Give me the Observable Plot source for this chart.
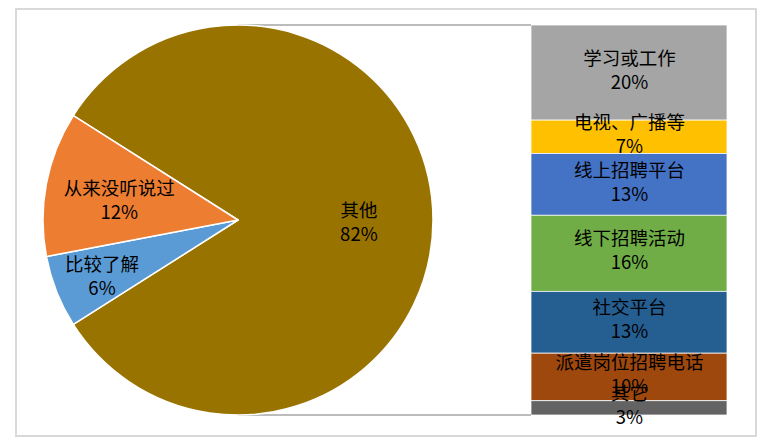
<!DOCTYPE html>
<html><head><meta charset="utf-8">
<script src="https://cdn.jsdelivr.net/npm/d3@7"></script>
<script src="https://cdn.jsdelivr.net/npm/@observablehq/plot@0.6"></script>
<style>
body{margin:0;background:#fff;}
#wrap{position:relative;width:765px;height:440px;}
#frame{position:absolute;left:15px;top:8px;width:738px;height:425px;border:2px solid #d9d9d9;pointer-events:none;}
#wrap svg{position:absolute;left:0;top:0;}
</style></head><body>
<div id="wrap"><div id="frame"></div></div>
<script>
const pieLabels = ["其他", "比较了解", "从来没听说过"];
const pieValues = [82, 6, 12];
const pieColors = ["#997300", "#5B9BD5", "#ED7D31"];
const barLabels = ["学习或工作", "电视、广播等", "线上招聘平台", "线下招聘活动", "社交平台", "派遣岗位招聘电话", "其它"];
const barValues = [20, 7, 13, 16, 13, 10, 3];
const barColors = ["#A5A5A5", "#FFC000", "#4472C4", "#70AD47", "#255E91", "#9E480E", "#636363"];

const barData = barLabels.map((label, i) => ({label, value: barValues[i], group: pieLabels[0]}));
const pieData = pieLabels.map((label, i) => ({label, value: pieValues[i]}));
const font = "'Noto Sans CJK SC', 'Noto Sans', sans-serif";
const fontSize = 18.5;
const lineGap = 24;

function pieMark(index, scales, values, dimensions) {
  const y = scales.y, color = scales.color;
  const total = d3.sum(barValues);
  const top = y(0), bottom = y(total);
  const r = (bottom - top) / 2;
  const cx = 238, cy = (top + bottom) / 2;
  const barLeft = dimensions.marginLeft;
  const frac = pieValues[0] / d3.sum(pieValues);
  const start = Math.PI / 2 - frac * Math.PI;
  const arcs = d3.pie().sort(null).value(d => d.value)
    .startAngle(start).endAngle(start + 2 * Math.PI)(pieData);
  const arc = d3.arc().innerRadius(0).outerRadius(r);
  const g = d3.create("svg:g");
  g.append("line").attr("x1", cx).attr("y1", top).attr("x2", barLeft).attr("y2", top)
    .attr("stroke", "#A6A6A6").attr("stroke-width", 1.5);
  g.append("line").attr("x1", cx).attr("y1", bottom).attr("x2", barLeft).attr("y2", bottom)
    .attr("stroke", "#A6A6A6").attr("stroke-width", 1.5);
  const pg = g.append("g").attr("transform", `translate(${cx},${cy})`);
  pg.selectAll("path").data(arcs).join("path")
    .attr("d", arc)
    .attr("fill", d => color(d.data.label))
    .attr("stroke", "#fff").attr("stroke-width", 1.5).attr("stroke-linejoin", "round");
  const t = pg.selectAll("text").data(arcs).join("text")
    .attr("transform", d => {
      const lr = d.data.value < 10 ? 0.75 * r : 0.62 * r;
      const c = d3.arc().innerRadius(lr).outerRadius(lr).centroid(d);
      return `translate(${c[0]},${c[1] + 3})`;
    })
    .attr("text-anchor", "middle")
    .attr("font-family", font).attr("font-size", fontSize).attr("fill", "#000");
  t.append("tspan").attr("x", 0).attr("y", -lineGap / 2).attr("dy", "0.35em").text(d => d.data.label);
  t.append("tspan").attr("x", 0).attr("y", lineGap / 2).attr("dy", "0.35em").text(d => d.data.value + "%");
  return g.node();
}

const chart = Plot.plot({
  width: 765,
  height: 440,
  marginLeft: 531,
  marginRight: 38,
  marginTop: 25,
  marginBottom: 25,
  style: {background: "transparent", fontFamily: font},
  x: {domain: [pieLabels[0]], padding: 0, axis: null},
  y: {domain: [0, d3.sum(barValues)], reverse: true, axis: null},
  color: {domain: [...barLabels, ...pieLabels], range: [...barColors, ...pieColors]},
  marks: [
    Plot.barY(barData, Plot.stackY({x: "group", y: "value", fill: "label", stroke: "#fff", strokeWidth: 0.75})),
    Plot.text(barData, Plot.stackY({
      x: "group", y: "value", dy: -4,
      text: d => `${d.label}\n${d.value}%`,
      fontSize, lineHeight: lineGap / fontSize, fontFamily: font, fill: "#000"
    })),
    pieMark
  ]
});
document.getElementById("wrap").appendChild(chart);
</script>
</body></html>
